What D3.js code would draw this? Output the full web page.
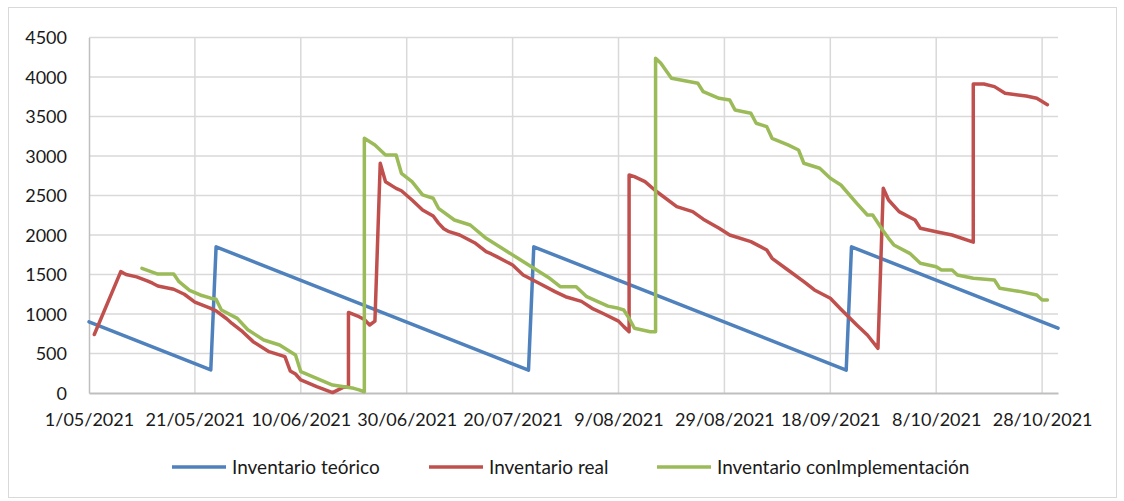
<!DOCTYPE html>
<html>
<head>
<meta charset="utf-8">
<script src="https://cdn.jsdelivr.net/npm/d3@7"></script>
<style>
  body { margin: 0; background: #fff; }
  text { font-family: Lato, "Open Sans", sans-serif; fill: #1a1a1a; }
</style>
</head>
<body>
<script>
var W = 1124, H = 501;
var margin = {top: 37.5, bottom: 108, left: 89, right: 66};
var width = W - margin.left - margin.right;
var height = H - margin.top - margin.bottom;

// Data
var tickFechas = ["2021-05-01","2021-05-21","2021-06-10","2021-06-30","2021-07-20","2021-08-09","2021-08-29","2021-09-18","2021-10-08","2021-10-28"];
var yTicks = [0, 500, 1000, 1500, 2000, 2500, 3000, 3500, 4000, 4500];
var seriesNames = ["Inventario teórico", "Inventario real", "Inventario conImplementación"];
var seriesColors = ["#4f81bd", "#c0504d", "#9bbb59"];

var teoricoFechas = ["2021-05-01","2021-05-24","2021-05-25","2021-07-23","2021-07-24","2021-09-21","2021-09-22","2021-10-31"];
var teoricoValores = [900, 292, 1850, 290, 1850, 290, 1850, 820];

var realFechas = ["2021-05-02","2021-05-07","2021-05-08","2021-05-10","2021-05-12","2021-05-13","2021-05-14","2021-05-17","2021-05-19","2021-05-21",
  "2021-05-24","2021-05-25","2021-05-27","2021-05-28","2021-05-30","2021-06-01","2021-06-04","2021-06-07","2021-06-08","2021-06-09",
  "2021-06-10","2021-06-13","2021-06-16","2021-06-18","2021-06-19","2021-06-19","2021-06-21","2021-06-22","2021-06-23","2021-06-24",
  "2021-06-25","2021-06-26","2021-06-28","2021-06-29","2021-07-01","2021-07-03","2021-07-05","2021-07-06","2021-07-07","2021-07-08",
  "2021-07-10","2021-07-13","2021-07-15","2021-07-16","2021-07-17","2021-07-20","2021-07-22","2021-07-25","2021-07-28","2021-07-30",
  "2021-08-02","2021-08-04","2021-08-06","2021-08-09","2021-08-10","2021-08-11","2021-08-11","2021-08-12","2021-08-14","2021-08-16",
  "2021-08-20","2021-08-23","2021-08-25","2021-08-28","2021-08-30","2021-09-03","2021-09-06","2021-09-07","2021-09-10","2021-09-13",
  "2021-09-15","2021-09-18","2021-09-20","2021-09-23","2021-09-25","2021-09-27","2021-09-28","2021-09-29","2021-10-01","2021-10-04",
  "2021-10-05","2021-10-08","2021-10-11","2021-10-15","2021-10-15","2021-10-17","2021-10-19","2021-10-21","2021-10-25","2021-10-27",
  "2021-10-29"];
var realValores = [740, 1536, 1500, 1470, 1420, 1390, 1355, 1313, 1250, 1150,
  1070, 1040, 940, 880, 776, 650, 523, 460, 280, 240,
  165, 80, 5, 72, 72, 1020, 966, 930, 861, 910,
  2908, 2675, 2590, 2560, 2443, 2317, 2240, 2150, 2080, 2042,
  2000, 1895, 1789, 1760, 1726, 1620, 1494, 1389, 1283, 1219,
  1160, 1072, 1009, 910, 840, 776, 2760, 2738, 2675, 2560,
  2359, 2296, 2200, 2085, 2000, 1916, 1810, 1705, 1557, 1409,
  1304, 1199, 1060, 860, 734, 566, 2591, 2443, 2296, 2190,
  2085, 2042, 2000, 1910, 3912, 3912, 3878, 3794, 3760, 3730,
  3650];

var implFechas = ["2021-05-11","2021-05-14","2021-05-17","2021-05-18","2021-05-20","2021-05-22","2021-05-24","2021-05-25","2021-05-26","2021-05-29",
  "2021-05-31","2021-06-03","2021-06-06","2021-06-09","2021-06-10","2021-06-13","2021-06-16","2021-06-20","2021-06-21","2021-06-22",
  "2021-06-22","2021-06-24","2021-06-26","2021-06-28","2021-06-29","2021-07-01","2021-07-03","2021-07-05","2021-07-06","2021-07-09",
  "2021-07-12","2021-07-15","2021-07-18","2021-07-21","2021-07-24","2021-07-27","2021-07-29","2021-08-01","2021-08-03","2021-08-07",
  "2021-08-09","2021-08-10","2021-08-11","2021-08-12","2021-08-15","2021-08-16","2021-08-16","2021-08-17","2021-08-19","2021-08-24",
  "2021-08-25","2021-08-28","2021-08-30","2021-08-31","2021-09-03","2021-09-04","2021-09-06","2021-09-07","2021-09-10","2021-09-12",
  "2021-09-13","2021-09-16","2021-09-18","2021-09-20","2021-09-23","2021-09-25","2021-09-26","2021-09-28","2021-09-29","2021-09-30",
  "2021-10-03","2021-10-05","2021-10-08","2021-10-09","2021-10-11","2021-10-12","2021-10-15","2021-10-19","2021-10-20","2021-10-24",
  "2021-10-27","2021-10-28","2021-10-29"];
var implValores = [1578, 1506, 1506, 1409, 1300, 1241, 1200, 1186, 1051, 945,
  800, 671, 608, 481, 270, 186, 101, 59, 40, 16,
  3224, 3140, 3013, 3013, 2781, 2675, 2507, 2465, 2338, 2190,
  2127, 1958, 1832, 1705, 1578, 1452, 1346, 1346, 1219, 1100,
  1072, 1051, 945, 819, 776, 776, 4237, 4173, 3983, 3920,
  3814, 3730, 3709, 3583, 3541, 3414, 3372, 3224, 3140, 3076,
  2908, 2845, 2718, 2633, 2400, 2253, 2253, 2050, 1958, 1874,
  1768, 1642, 1599, 1557, 1557, 1494, 1452, 1430, 1325, 1283,
  1241, 1177, 1177];

var parseDate = d3.timeParse("%Y-%m-%d");
var fmtTick = function(d) { return d.getDate() + "/" + d3.timeFormat("%m/%Y")(d); };

function zipSeries(fechas, valores) {
  return fechas.map(function(f, i) { return {date: parseDate(f), value: valores[i]}; });
}
var series = [
  zipSeries(teoricoFechas, teoricoValores),
  zipSeries(realFechas, realValores),
  zipSeries(implFechas, implValores)
];

var svg = d3.select("body")
  .append("svg")
  .attr("width", W)
  .attr("height", H);

// chart frame
svg.append("rect")
  .attr("x", 8.5).attr("y", 7.5)
  .attr("width", 1108).attr("height", 490)
  .attr("fill", "none")
  .attr("stroke", "#d9d9d9");

var g = svg.append("g")
  .attr("transform", "translate(" + margin.left + "," + margin.top + ")");

var xScale = d3.scaleTime()
  .domain([parseDate("2021-05-01"), parseDate("2021-10-31")])
  .range([0, width]);

var yScale = d3.scaleLinear()
  .domain([0, 4500])
  .range([height, 0]);

// horizontal gridlines
g.append("g")
  .selectAll("line")
  .data(yTicks.slice(1))
  .enter()
  .append("line")
  .attr("x1", 0).attr("x2", width)
  .attr("y1", function(d) { return yScale(d); })
  .attr("y2", function(d) { return yScale(d); })
  .attr("stroke", "#d9d9d9")
  .attr("stroke-width", 1.5);

// vertical gridlines
g.append("g")
  .selectAll("line")
  .data(tickFechas.slice(1))
  .enter()
  .append("line")
  .attr("x1", function(d) { return xScale(parseDate(d)); })
  .attr("x2", function(d) { return xScale(parseDate(d)); })
  .attr("y1", 0).attr("y2", height)
  .attr("stroke", "#d9d9d9")
  .attr("stroke-width", 1.5);

//Y axis
var yAxis = d3.axisLeft(yScale)
  .tickValues(yTicks)
  .tickFormat(d3.format("d"))
  .tickSize(0)
  .tickPadding(22);

var yG = g.append("g").call(yAxis);
yG.select(".domain").attr("stroke", "#bfbfbf").attr("stroke-width", 1.5);
yG.selectAll("text")
  .style("font-size", "18px")
  .attr("dy", "0.35em");

//X axis
var xAxis = d3.axisBottom(xScale)
  .tickValues(tickFechas.map(parseDate))
  .tickFormat(fmtTick)
  .tickSize(0)
  .tickPadding(20);

var xG = g.append("g")
  .attr("transform", "translate(0," + height + ")")
  .call(xAxis);
xG.select(".domain").attr("stroke", "#bfbfbf").attr("stroke-width", 2);
xG.selectAll("text").style("font-size", "18px");

// lines
var line = d3.line()
  .x(function(d) { return xScale(d.date); })
  .y(function(d) { return yScale(d.value); });

g.selectAll(".serie")
  .data(series)
  .enter()
  .append("path")
  .attr("class", "serie")
  .attr("d", line)
  .attr("fill", "none")
  .attr("stroke", function(d, i) { return seriesColors[i]; })
  .attr("stroke-width", 3.5)
  .attr("stroke-linejoin", "round")
  .attr("stroke-linecap", "round");

// legend
var legendX = [172, 429, 657];
var legend = svg.append("g")
  .selectAll("g")
  .data(seriesNames)
  .enter()
  .append("g")
  .attr("transform", function(d, i) { return "translate(" + legendX[i] + ",467)"; });

legend.append("line")
  .attr("x1", 0).attr("x2", 54)
  .attr("stroke", function(d, i) { return seriesColors[i]; })
  .attr("stroke-width", 3.5);

legend.append("text")
  .attr("x", 60)
  .attr("dy", "0.35em")
  .style("font-size", "19px")
  .text(function(d) { return d; });
</script>
</body>
</html>
